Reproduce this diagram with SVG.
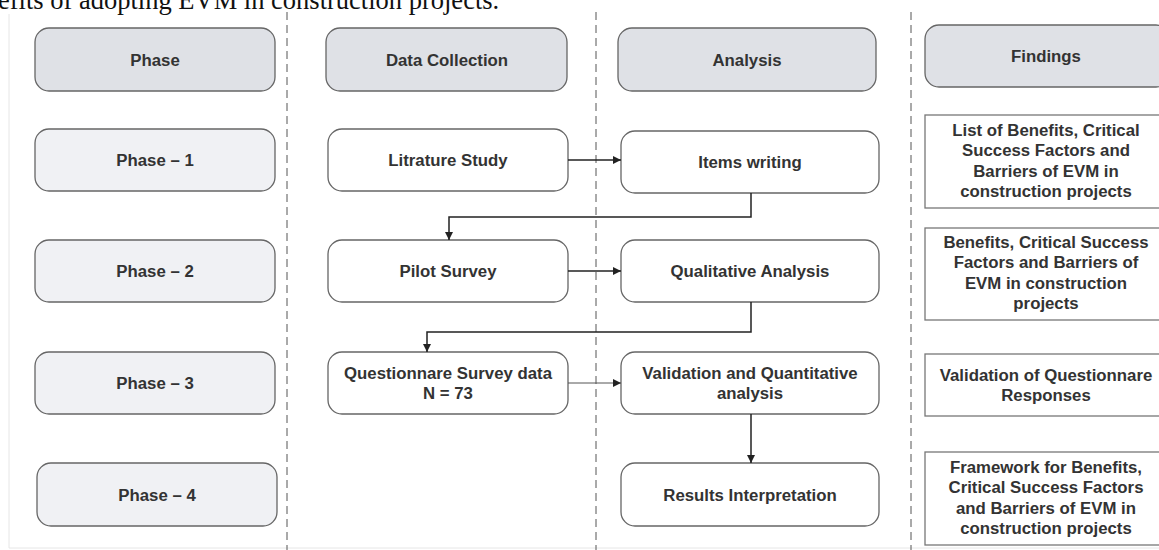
<svg xmlns="http://www.w3.org/2000/svg" width="1159" height="550" viewBox="0 0 1159 550">
<defs>
<style>
.hdr{fill:#dfe1e6;stroke:#666;stroke-width:1.3}
.ph{fill:#f0f1f4;stroke:#666;stroke-width:1.3}
.bx{fill:#fff;stroke:#666;stroke-width:1.3}
.fd{fill:#fff;stroke:#777;stroke-width:1.3}
.t{font-family:"Liberation Sans",Arial,sans-serif;font-weight:bold;font-size:16.8px;fill:#333;text-anchor:middle}
.div{stroke:#555;stroke-width:1;stroke-dasharray:8 5;fill:none}
.c{stroke:#222;stroke-width:1.5;fill:none}
.c2{stroke:#555;stroke-width:1;fill:none}
</style>
<marker id="ah" viewBox="0 0 8 8" refX="8" refY="4" markerWidth="8" markerHeight="8" markerUnits="userSpaceOnUse" orient="auto">
<path d="M0,0 L8,4 L0,8 z" fill="#222"/>
</marker>
</defs>
<rect width="1159" height="550" fill="#fff"/>
<text x="-2" y="9" font-family="Liberation Serif,'Times New Roman',serif" font-size="26.5" fill="#111">efits of adopting EVM in construction projects.</text>
<g id="frame" stroke="#e6e6e6" stroke-width="1" fill="none">
<path d="M9,14 V548 H1159"/>
</g>
<g id="dividers">
<path class="div" d="M287,12 V550"/>
<path class="div" d="M596,12 V550"/>
<path class="div" d="M911,12 V550"/>
</g>
<g id="h-phase"><rect class="hdr" x="35" y="28" width="240" height="63" rx="14"/><text class="t" x="155" y="65.5">Phase</text></g>
<g id="h-data"><rect class="hdr" x="326" y="28" width="241" height="63" rx="14"/><text class="t" x="447" y="65.5">Data Collection</text></g>
<g id="h-analysis"><rect class="hdr" x="618" y="28" width="258" height="63" rx="14"/><text class="t" x="747" y="65.5">Analysis</text></g>
<g id="h-findings"><rect class="hdr" x="925" y="25" width="245" height="62" rx="14"/><text class="t" x="1046" y="62">Findings</text></g>
<g id="phase1"><rect class="ph" x="35" y="129" width="240" height="62" rx="14"/><text class="t" x="155" y="166">Phase – 1</text></g>
<g id="phase2"><rect class="ph" x="35" y="240" width="240" height="62" rx="14"/><text class="t" x="155" y="277">Phase – 2</text></g>
<g id="phase3"><rect class="ph" x="35" y="352" width="240" height="62" rx="14"/><text class="t" x="155" y="389">Phase – 3</text></g>
<g id="phase4"><rect class="ph" x="37" y="463" width="240" height="63" rx="14"/><text class="t" x="157" y="500.5">Phase – 4</text></g>
<g id="literature"><rect class="bx" x="328" y="129" width="240" height="62" rx="14"/><text class="t" x="448" y="166">Litrature Study</text></g>
<g id="pilot"><rect class="bx" x="328" y="240" width="240" height="62" rx="14"/><text class="t" x="448" y="277">Pilot Survey</text></g>
<g id="questionnaire"><rect class="bx" x="328" y="352" width="240" height="62" rx="14"/><text class="t" x="448" y="379">Questionnare Survey data</text><text class="t" x="448" y="399">N = 73</text></g>
<g id="items"><rect class="bx" x="621" y="131" width="258" height="62" rx="14"/><text class="t" x="750" y="168">Items writing</text></g>
<g id="qualitative"><rect class="bx" x="621" y="240" width="258" height="62" rx="14"/><text class="t" x="750" y="277">Qualitative Analysis</text></g>
<g id="validation"><rect class="bx" x="621" y="352" width="258" height="62" rx="14"/><text class="t" x="750" y="379">Validation and Quantitative</text><text class="t" x="750" y="399">analysis</text></g>
<g id="results"><rect class="bx" x="621" y="463" width="258" height="63" rx="14"/><text class="t" x="750" y="500.5">Results Interpretation</text></g>
<g id="f1"><rect class="fd" x="925" y="115" width="245" height="93"/>
<text class="t" x="1046" y="136">List of Benefits, Critical</text><text class="t" x="1046" y="156.4">Success Factors and</text><text class="t" x="1046" y="176.8">Barriers of EVM in</text><text class="t" x="1046" y="197.2">construction projects</text></g>
<g id="f2"><rect class="fd" x="925" y="228" width="245" height="92"/>
<text class="t" x="1046" y="248">Benefits, Critical Success</text><text class="t" x="1046" y="268.4">Factors and Barriers of</text><text class="t" x="1046" y="288.8">EVM in construction</text><text class="t" x="1046" y="309.2">projects</text></g>
<g id="f3"><rect class="fd" x="925" y="354" width="245" height="62"/>
<text class="t" x="1046" y="381">Validation of Questionnare</text><text class="t" x="1046" y="401">Responses</text></g>
<g id="f4"><rect class="fd" x="925" y="452" width="245" height="93"/>
<text class="t" x="1046" y="473">Framework for Benefits,</text><text class="t" x="1046" y="493.4">Critical Success Factors</text><text class="t" x="1046" y="513.8">and Barriers of EVM in</text><text class="t" x="1046" y="534.2">construction projects</text></g>
<g id="connectors">
<path class="c" d="M568,160 H621" marker-end="url(#ah)"/>
<path class="c" d="M751,193 V217 H449 V240" marker-end="url(#ah)"/>
<path class="c" d="M568,271 H621" marker-end="url(#ah)"/>
<path class="c" d="M751,302 V332 H427 V352" marker-end="url(#ah)"/>
<path class="c2" d="M568,383 H621" marker-end="url(#ah)"/>
<path class="c" d="M751,414 V463" marker-end="url(#ah)"/>
</g>
</svg>
